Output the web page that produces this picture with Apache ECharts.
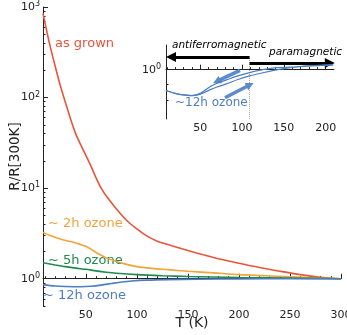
<!DOCTYPE html>
<html>
<head>
<meta charset="utf-8">
<script src="https://cdn.jsdelivr.net/npm/echarts@6/dist/echarts.min.js"></script>
<style>
html, body { margin: 0; padding: 0; background: #fff; }
#main { width: 347px; height: 335px; }
</style>
</head>
<body>
<div id="main"></div>
<script>
// R/R[300K] vs T
const asGrown = [[8, 850], [10, 660], [12, 520], [15, 370], [20, 220], [25, 135], [30, 88], [35, 58], [40, 40], [45, 30], [50, 23], [55, 17.5], [60, 13], [65, 10], [70, 8.2], [80, 5.9], [90, 4.4], [100, 3.55], [110, 2.95], [120, 2.6], [135, 2.3], [150, 2.05], [165, 1.84], [180, 1.66], [200, 1.48], [220, 1.33], [240, 1.21], [260, 1.11], [280, 1.04], [300, 1.0]]
const ozone2h = [[8, 3.25], [15, 3.0], [25, 2.75], [35, 2.57], [45, 2.38], [50, 2.28], [55, 2.12], [60, 1.95], [70, 1.7], [80, 1.55], [90, 1.44], [100, 1.36], [115, 1.3], [130, 1.26], [150, 1.21], [175, 1.16], [200, 1.11], [225, 1.08], [250, 1.05], [275, 1.02], [300, 1.0]]
const ozone5h = [[8, 1.5], [20, 1.42], [30, 1.36], [40, 1.31], [50, 1.27], [60, 1.22], [70, 1.18], [80, 1.15], [100, 1.11], [125, 1.08], [150, 1.06], [200, 1.03], [250, 1.015], [300, 1.0]]
const ozone12h = [[8, 0.86], [20, 0.83], [30, 0.82], [45, 0.815], [55, 0.825], [65, 0.85], [75, 0.885], [85, 0.92], [95, 0.945], [110, 0.965], [130, 0.978], [160, 0.988], [200, 0.995], [250, 1.0], [300, 1.0]]

// inset: 12h ozone, two branches
const insetUpper = [[9, 0.858], [20, 0.84], [30, 0.83], [40, 0.826], [50, 0.84], [62, 0.884], [70, 0.905], [82, 0.929], [95, 0.955], [110, 0.98], [125, 1.0], [138, 1.013], [150, 1.018], [165, 1.022], [185, 1.03], [209, 1.037]]
const insetLower = [[9, 0.858], [20, 0.84], [30, 0.83], [40, 0.826], [50, 0.835], [62, 0.863], [70, 0.88], [82, 0.902], [95, 0.93], [110, 0.957], [125, 0.978], [138, 0.995], [150, 1.008], [165, 1.02], [185, 1.03], [209, 1.037]]

// annotations in inset data coords
const afmArrow = [[109, 1.098], [15, 1.098]]
const paraArrow = [[109, 1.05], [205, 1.05]]
const coolArrow = [[97.5, 0.995], [69.6, 0.917]]
const warmArrow = [[79.6, 0.813], [109.5, 0.895]]
const neelLine = [[109, 0.695], [109, 1.098]]

const xTicks = [50, 100, 150, 200, 250, 300]
const insetXTicks = [50, 100, 150, 200]

const red = '#E8553A'
const orange = '#F2A33A'
const green = '#1E8A4C'
const blue = '#4D7EC2'
const ink = '#222'
const font = 'DejaVu Sans'

function minorX(max) {
    let arr = []
    for (let v = 10; v <= max; v += 10) {
        if (v % 50 != 0) arr.push(v)
    }
    return arr
}
function minorLog(lo, hi) {
    let arr = []
    for (let d = -1; d <= 2; d++) {
        for (let k = 2; k <= 9; k++) {
            let v = k * Math.pow(10, d)
            if (v >= lo && v <= hi) arr.push(Math.log10(v))
        }
    }
    return arr
}
const supFmt = function (v) { return '{b|10}{s|' + Math.round(v) + '}' }
const supRich = {
    b: { fontSize: 11, fontFamily: font, color: ink },
    s: { fontSize: 8, fontFamily: font, color: ink, verticalAlign: 'top', padding: [0, 0, 6, 0] }
}

const mainYMin = 0.5, mainYMax = 1000
const inYMin = 0.695, inYMax = 1.2

var chart = echarts.init(document.getElementById('main'))

const option = {
    animation: false,
    grid: [
        { left: 43, top: 7, width: 298, height: 299, outerBoundsMode: 'none', containLabel: false },
        { left: 166, top: 45, width: 168, height: 74, outerBoundsMode: 'none', containLabel: false }
    ],
    xAxis: [
        {
            gridIndex: 0, type: 'value', min: 8, max: 300, position: 'bottom',
            name: 'T (K)', nameLocation: 'middle', nameGap: 10, nameMoveOverlap: false,
            nameTextStyle: { fontFamily: font, fontSize: 14, color: ink, verticalAlign: 'top' },
            axisLine: { lineStyle: { color: ink } },
            axisTick: { inside: true, length: 5, customValues: xTicks, lineStyle: { color: ink } },
            axisLabel: { customValues: xTicks, margin: 4, fontFamily: font, fontSize: 11, color: ink },
            splitLine: { show: false }
        },
        {
            gridIndex: 0, type: 'value', min: 8, max: 300, position: 'bottom',
            axisLine: { show: false },
            axisTick: { inside: true, length: 2.5, customValues: minorX(300), lineStyle: { color: ink } },
            axisLabel: { show: false },
            splitLine: { show: false }
        },
        {
            gridIndex: 1, type: 'value', min: 9, max: 210, position: 'bottom',
            axisLine: { lineStyle: { color: ink } },
            axisTick: { inside: true, length: 5, customValues: insetXTicks, lineStyle: { color: ink } },
            axisLabel: { customValues: insetXTicks, margin: 4, fontFamily: font, fontSize: 11, color: ink },
            splitLine: { show: false }
        },
        {
            gridIndex: 1, type: 'value', min: 9, max: 210, position: 'bottom',
            axisLine: { show: false },
            axisTick: { inside: true, length: 2.5, customValues: minorX(200), lineStyle: { color: ink } },
            axisLabel: { show: false },
            splitLine: { show: false }
        }
    ],
    yAxis: [
        // data axes (log), hidden
        { gridIndex: 0, type: 'log', logBase: 10, min: mainYMin, max: mainYMax, position: 'left', show: false },
        { gridIndex: 1, type: 'log', logBase: 10, min: inYMin, max: inYMax, position: 'left', show: false },
        // tick / label axes in decade units
        {
            gridIndex: 0, type: 'value', min: Math.log10(mainYMin), max: Math.log10(mainYMax), position: 'left',
            name: 'R/R[300K]', nameLocation: 'middle', nameGap: 21, nameMoveOverlap: false,
            nameTextStyle: { fontFamily: font, fontSize: 13.5, color: ink },
            axisLine: { show: true, lineStyle: { color: ink } },
            axisTick: { show: true, inside: true, length: 5, customValues: [0, 1, 2, 3], lineStyle: { color: ink } },
            axisLabel: { customValues: [0, 1, 2, 3], margin: 3, formatter: supFmt, rich: supRich },
            splitLine: { show: false }
        },
        {
            gridIndex: 0, type: 'value', min: Math.log10(mainYMin), max: Math.log10(mainYMax), position: 'left',
            axisLine: { show: false },
            axisTick: { show: true, inside: true, length: 2.5, customValues: minorLog(mainYMin, mainYMax), lineStyle: { color: ink } },
            axisLabel: { show: false },
            splitLine: { show: false }
        },
        {
            gridIndex: 1, type: 'value', min: Math.log10(inYMin), max: Math.log10(inYMax), position: 'left',
            axisLine: { show: true, lineStyle: { color: ink } },
            axisTick: { show: true, inside: true, length: 5, customValues: [0], lineStyle: { color: ink } },
            axisLabel: { customValues: [0], margin: 5, formatter: supFmt, rich: supRich },
            splitLine: { show: false }
        },
        {
            gridIndex: 1, type: 'value', min: Math.log10(inYMin), max: Math.log10(inYMax), position: 'left',
            axisLine: { show: false },
            axisTick: { show: true, inside: true, length: 2.5, customValues: [Math.log10(0.8), Math.log10(0.9)], lineStyle: { color: ink } },
            axisLabel: { show: false },
            splitLine: { show: false }
        }
    ],
    series: [
        { type: 'line', xAxisIndex: 0, yAxisIndex: 0, data: asGrown, showSymbol: false, smooth: 0.3, lineStyle: { color: red, width: 1.6 } },
        { type: 'line', xAxisIndex: 0, yAxisIndex: 0, data: ozone2h, showSymbol: false, smooth: 0.3, lineStyle: { color: orange, width: 1.6 } },
        { type: 'line', xAxisIndex: 0, yAxisIndex: 0, data: ozone5h, showSymbol: false, smooth: 0.3, lineStyle: { color: green, width: 1.6 } },
        { type: 'line', xAxisIndex: 0, yAxisIndex: 0, data: ozone12h, showSymbol: false, smooth: 0.3, lineStyle: { color: blue, width: 1.6 } },
        { type: 'line', xAxisIndex: 2, yAxisIndex: 1, data: insetUpper, showSymbol: false, smooth: 0.3, lineStyle: { color: blue, width: 1.2 } },
        { type: 'line', xAxisIndex: 2, yAxisIndex: 1, data: insetLower, showSymbol: false, smooth: 0.3, lineStyle: { color: blue, width: 1.2 } },
        {
            type: 'lines', coordinateSystem: 'cartesian2d', xAxisIndex: 2, yAxisIndex: 1,
            symbol: ['none', 'none'],
            lineStyle: { color: '#aaa', width: 1, type: 'dotted', opacity: 1 },
            data: [{ coords: neelLine }]
        },
        {
            type: 'lines', coordinateSystem: 'cartesian2d', xAxisIndex: 2, yAxisIndex: 1,
            symbol: ['none', 'triangle'], symbolSize: 10,
            lineStyle: { color: '#000', width: 3, opacity: 1 },
            data: [{ coords: afmArrow }, { coords: paraArrow }]
        },
        {
            type: 'lines', coordinateSystem: 'cartesian2d', xAxisIndex: 2, yAxisIndex: 1,
            symbol: ['none', 'triangle'], symbolSize: 8,
            lineStyle: { color: '#5A8BCB', width: 3.5, opacity: 1 },
            data: [{ coords: coolArrow }, { coords: warmArrow }]
        }
    ],
    graphic: [
        { type: 'text', x: 55, y: 44, style: { text: 'as grown', fill: red, font: '13px "DejaVu Sans"', verticalAlign: 'middle' } },
        { type: 'text', x: 48, y: 224, style: { text: '~ 2h ozone', fill: orange, font: '13px "DejaVu Sans"', verticalAlign: 'middle' } },
        { type: 'text', x: 48, y: 261, style: { text: '~ 5h ozone', fill: green, font: '13px "DejaVu Sans"', verticalAlign: 'middle' } },
        { type: 'text', x: 43, y: 296, style: { text: '~ 12h ozone', fill: blue, font: '13px "DejaVu Sans"', verticalAlign: 'middle' } },
        { type: 'text', x: 175, y: 103, style: { text: '~12h ozone', fill: blue, font: '12px "DejaVu Sans"', verticalAlign: 'middle' } },
        { type: 'text', x: 172, y: 45, style: { text: 'antiferromagnetic', fill: '#000', font: 'italic 10.5px "DejaVu Sans"', verticalAlign: 'middle' } },
        { type: 'text', x: 269, y: 52, style: { text: 'paramagnetic', fill: '#000', font: 'italic 10.5px "DejaVu Sans"', verticalAlign: 'middle' } }
    ]
}

option && chart.setOption(option)
</script>
</body>
</html>
